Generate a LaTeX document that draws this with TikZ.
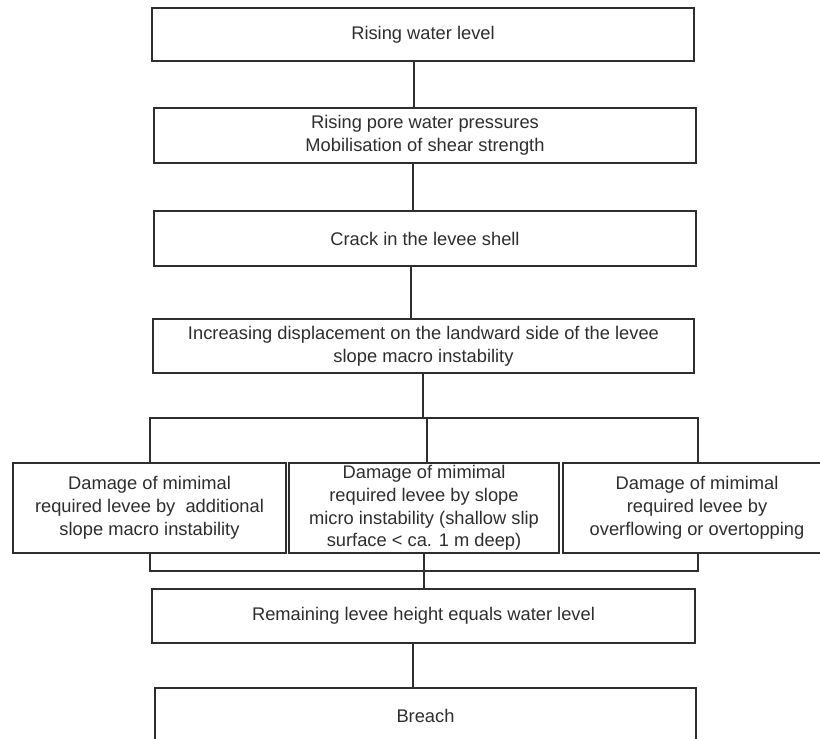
\documentclass[tikz,border=0pt]{standalone}
\usepackage{fontspec}
\setmainfont{Liberation Sans}
\definecolor{ink}{HTML}{2E2E2E}
\begin{document}
\begin{tikzpicture}[x=1pt,y=-1pt,
  every node/.style={font=\fontsize{18.3}{22.8}\selectfont, text=ink},
  box/.style={draw=ink, line width=1.3pt, fill=white, rectangle, align=center, inner sep=0pt},
  link/.style={draw=ink, line width=1.3pt},
  thicklink/.style={draw=ink, line width=2.4pt}]
\clip (0,0) rectangle (820,739);
\fill[white] (0,0) rectangle (820,739);

\node[box, minimum width=542, minimum height=53] (b1) at (423,34.5) {Rising water level};
\node[box, minimum width=542, minimum height=55] (b2) at (425,135.5) {Rising pore water pressures\\Mobilisation of shear strength};
\node[box, minimum width=542, minimum height=55] (b3) at (425,238.5) {Crack in the levee shell};
\node[box, minimum width=541, minimum height=54] (b4) at (423.5,346) {Increasing displacement on the landward side of the levee\\slope macro instability};

\node[box, minimum width=548, minimum height=153] (br) at (424,494.5) {};

\node[box, minimum width=273, minimum height=90] (d1) at (149.5,508) {Damage of mimimal\\required levee by\ \ additional\\slope macro instability};
\node[box, minimum width=270, minimum height=90] (d2) at (424,508) {Damage of mimimal\\required levee by slope\\micro instability (shallow slip\\surface < ca. 1 m deep)};
\node[box, minimum width=268, minimum height=90] (d3) at (697,508) {Damage of mimimal\\required levee by\\overflowing or overtopping};

\node[box, minimum width=543, minimum height=54] (b5) at (423.5,616) {Remaining levee height equals water level};
\node[box, minimum width=541, minimum height=56] (b6) at (425.5,716) {Breach};

\draw[link] (b1.south -| 414,0) -- (b2.north -| 414,0);
\draw[link] (b2.south -| 413,0) -- (b3.north -| 413,0);
\draw[link] (b3.south -| 411,0) -- (b4.north -| 411,0);
\draw[thicklink] (b4.south -| 423,0) -- (br.north -| 423,0);
\draw[link] (br.north -| 427,0) -- (d2.north -| 427,0);
\draw[link] (d2.south -| 424,0) -- (b5.north -| 424,0);
\draw[link] (b5.south -| 413,0) -- (b6.north -| 413,0);
\end{tikzpicture}
\end{document}
